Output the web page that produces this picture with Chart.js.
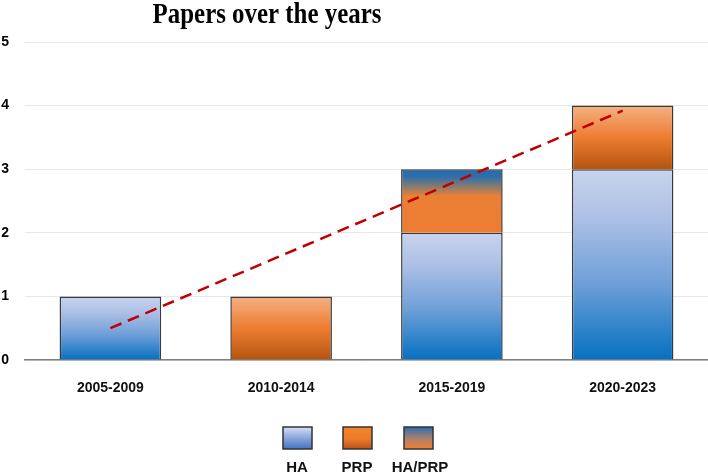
<!DOCTYPE html>
<html>
<head>
<meta charset="utf-8">
<script src="https://cdn.jsdelivr.net/npm/chart.js"></script>
<style>
  html, body { margin: 0; padding: 0; background: #fff; }
  #wrap { width: 708px; height: 476px; position: relative; }
</style>
</head>
<body>
<div id="wrap"><canvas id="myChart"></canvas></div>
<script>
const periods = ['2005-2009', '2010-2014', '2015-2019', '2020-2023'];
const haValues = [1, 0, 2, 3];
const prpValues = [0, 1, 0, 1];
const mixValues = [0, 0, 1, 0];
const trendValues = [0.5, 1.64, 2.78, 3.92];
const yTicks = [0, 1, 2, 3, 4, 5];
const legendNames = ['HA', 'PRP', 'HA/PRP'];

const barData = [haValues, prpValues, mixValues];
const barStops = [
  [[0, '#c7d4ed'], [0.25, '#aec0e6'], [0.6, '#6e9fd8'], [1, '#0570c1']],
  [[0, '#f4b184'], [0.5, '#ed7d31'], [1, '#b4540f']],
  [[0, '#1f6cb4'], [0.12, '#2e6fab'], [0.28, '#8c7c6c'], [0.42, '#ea7f36'], [1, '#ee7c30']]
];
const legendStops = [
  [[0, '#d5e0f3'], [0.5, '#8aa6dc'], [1, '#4472c4']],
  [[0, '#f68428'], [0.55, '#ec7a28'], [1, '#b95414']],
  [[0, '#2a6db2'], [0.5, '#a88070'], [1, '#f08030']]
];
const labelFont = "'Liberation Sans', Arial, sans-serif";

// gradient for each bar segment, from its own top to its own base
function barFill(k) {
  return function (ctx) {
    const chart = ctx.chart;
    if (!chart.chartArea || ctx.dataIndex === undefined) return barStops[k][1][1];
    const y = chart.scales.y;
    let base = 0;
    for (let j = 0; j < k; j++) base += barData[j][ctx.dataIndex];
    const top = base + barData[k][ctx.dataIndex];
    const y0 = y.getPixelForValue(base);
    const y1 = y.getPixelForValue(top);
    if (y0 === y1) return barStops[k][1][1];
    const g = chart.ctx.createLinearGradient(0, y1, 0, y0);
    barStops[k].forEach(s => g.addColorStop(s[0], s[1]));
    return g;
  };
}

const titleAndLegend = {
  id: 'titleAndLegend',
  afterDraw(chart) {
    const c = chart.ctx;
    c.save();
    // title
    c.fillStyle = '#000';
    c.font = "bold 30px 'Liberation Serif', 'Times New Roman', serif";
    c.textAlign = 'center';
    c.textBaseline = 'alphabetic';
    c.translate(267, 23);
    c.scale(0.83, 1);
    c.fillText('Papers over the years', 0, 0);
    c.restore();

    // legend below the axis
    c.save();
    const boxX = [283, 343, 404];
    const labelX = [297, 357, 420];
    legendNames.forEach((name, i) => {
      const g = c.createLinearGradient(0, 427, 0, 449);
      legendStops[i].forEach(s => g.addColorStop(s[0], s[1]));
      c.fillStyle = g;
      c.fillRect(boxX[i], 427, 29, 22);
      c.strokeStyle = '#333';
      c.lineWidth = 1.5;
      c.strokeRect(boxX[i], 427, 29, 22);
      c.fillStyle = '#111';
      c.font = 'bold 15px ' + labelFont;
      c.textAlign = 'center';
      c.textBaseline = 'middle';
      c.fillText(name, labelX[i], 468);
    });
    c.restore();
  }
};

let myChart = new Chart(document.querySelector('#myChart').getContext('2d'), {
  type: 'bar',
  data: {
    labels: periods,
    datasets: [
      {
        type: 'line',
        label: 'Trend',
        data: trendValues,
        stack: 'trend',
        order: 0,
        borderColor: '#c00000',
        borderWidth: 2.5,
        borderDash: [12, 7],
        pointRadius: 0,
        fill: false
      },
      { label: 'HA', data: haValues, order: 1, backgroundColor: barFill(0), borderColor: '#3a3a3a', borderWidth: 1.5 },
      { label: 'PRP', data: prpValues, order: 1, backgroundColor: barFill(1), borderColor: '#3a3a3a', borderWidth: 1.5 },
      { label: 'HA/PRP', data: mixValues, order: 1, backgroundColor: barFill(2), borderColor: '#3a3a3a', borderWidth: 1.5 }
    ]
  },
  options: {
    responsive: true,
    maintainAspectRatio: false,
    animation: false,
    layout: { padding: { top: 42, right: 0, bottom: 76, left: 0 } },
    datasets: {
      bar: { categoryPercentage: 1, barPercentage: 0.595 }
    },
    plugins: {
      legend: { display: false },
      title: { display: false },
      tooltip: { enabled: false }
    },
    scales: {
      x: {
        stacked: true,
        grid: { display: false, drawTicks: false },
        border: { display: true, color: '#7f7f7f', width: 1.5 },
        ticks: {
          color: '#111',
          padding: 20,
          font: { family: labelFont, size: 14, weight: 'bold' }
        },
        afterFit(scale) { scale.height = 40; }
      },
      y: {
        stacked: true,
        min: 0,
        max: 5,
        afterBuildTicks(scale) { scale.ticks = yTicks.map(v => ({ value: v })); },
        grid: { color: '#e8e8e8', lineWidth: 1, drawTicks: false },
        border: { display: false },
        ticks: {
          color: '#000',
          padding: 16,
          font: { family: labelFont, size: 14, weight: 'bold' }
        },
        afterFit(scale) { scale.width = 25; }
      }
    }
  },
  plugins: [titleAndLegend]
});
</script>
</body>
</html>
